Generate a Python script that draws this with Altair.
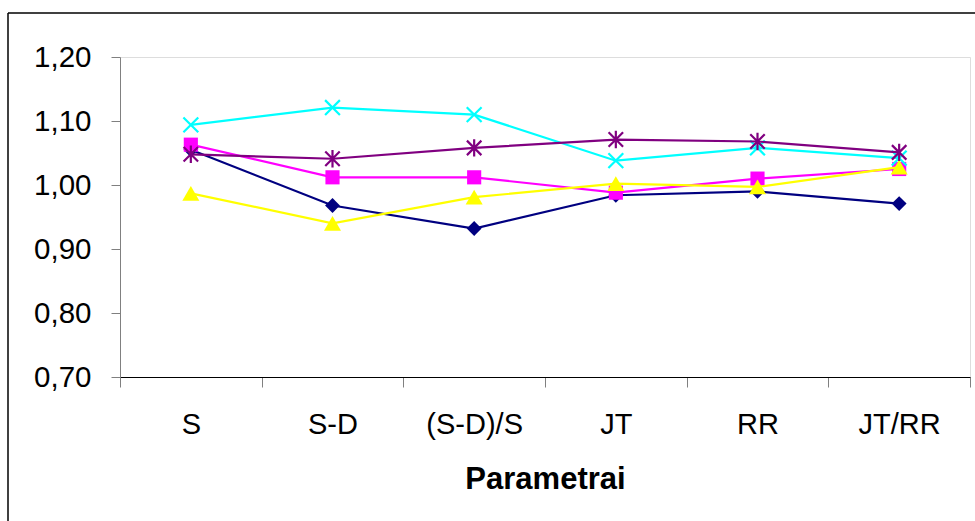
import altair as alt
import pandas as pd

categories = ["S", "S-D", "(S-D)/S", "JT", "RR", "JT/RR"]
series_names = ["A", "B", "C", "D", "E"]
series_colors = ["#000080", "#FF00FF", "#FFFF00", "#00FFFF", "#800080"]

vals_a = [1.055, 0.968, 0.932, 0.984, 0.990, 0.971]
vals_b = [1.063, 1.012, 1.012, 0.988, 1.010, 1.025]
vals_c = [0.987, 0.940, 0.981, 1.002, 0.997, 1.028]
vals_d = [1.094, 1.121, 1.110, 1.038, 1.058, 1.042]
vals_e = [1.048, 1.041, 1.058, 1.071, 1.068, 1.051]

all_vals = [vals_a, vals_b, vals_c, vals_d, vals_e]

rows = []
for name, vals in zip(series_names, all_vals):
    for c, v in zip(categories, vals):
        rows.append({"series": name, "param": c, "value": v})
df = pd.DataFrame(rows)

FONT = "Liberation Sans"

x_enc = alt.X(
    "param:N",
    sort=categories,
    scale=alt.Scale(paddingInner=0, paddingOuter=0),
    axis=alt.Axis(
        title="Parametrai",
        titleFontSize=31,
        titleFontWeight="bold",
        titleFont=FONT,
        titleColor="#000000",
        titlePadding=25,
        labelFont=FONT,
        labelFontSize=29,
        labelColor="#000000",
        labelAngle=0,
        labelPadding=23,
        tickBand="extent",
        tickSize=10,
        tickColor="#808080",
        domainColor="#000000",
        domainWidth=1,
    ),
)
y_enc = alt.Y(
    "value:Q",
    scale=alt.Scale(domain=[0.7, 1.2], nice=False, zero=False),
    axis=alt.Axis(
        title=None,
        values=[0.7, 0.8, 0.9, 1.0, 1.1, 1.2],
        labelExpr="replace(format(datum.value, '.2f'), '.', ',')",
        labelFont=FONT,
        labelFontSize=29.5,
        labelColor="#000000",
        labelPadding=20,
        tickSize=9,
        tickColor="#808080",
        domainColor="#808080",
        grid=False,
    ),
)
color_enc = alt.Color(
    "series:N",
    scale=alt.Scale(domain=series_names, range=series_colors),
    legend=None,
)

diamond = "diamond"
square = "square"
triangle = "triangle-up"
xshape = "M-1,-1L1,1M-1,1L1,-1"
asterisk = "M-1,-1L1,1M-1,1L1,-1M0,-1.2L0,1.2"
shapes = [diamond, square, triangle, xshape, asterisk]
filled = [True, True, True, False, False]
sizes = [220, 200, 290, 220, 210]

base = alt.Chart(df)
layers = []
for name, shp, fl, sz in zip(series_names, shapes, filled, sizes):
    sub = base.transform_filter(alt.datum.series == name)
    layers.append(
        sub.mark_line(strokeWidth=2.2).encode(x=x_enc, y=y_enc, color=color_enc)
    )
    if fl:
        pt = sub.mark_point(shape=shp, filled=True, size=sz, opacity=1, strokeWidth=0)
    else:
        pt = sub.mark_point(shape=shp, filled=False, size=sz, opacity=1, strokeWidth=2.2)
    layers.append(pt.encode(x=x_enc, y=y_enc, color=color_enc))

border_data = alt.Data(values=[{"k": 1}])
border_v = alt.Chart(border_data).mark_rule(color="#000000", strokeWidth=1.5).encode(
    x=alt.value(-112), y=alt.value(-44), y2=alt.value(480)
)
border_h = alt.Chart(border_data).mark_rule(color="#000000", strokeWidth=1.5).encode(
    x=alt.value(-112), x2=alt.value(870), y=alt.value(-44)
)

chart = alt.layer(*layers, border_v, border_h).properties(
    width=850,
    height=320,
    autosize=alt.AutoSizeParams(type="none"),
    padding={"left": 120, "top": 57, "right": 5, "bottom": 144},
).configure_view(stroke=None).configure(background="#ffffff")

chart.save("out.html", embed_options={"renderer": "svg", "actions": False})
